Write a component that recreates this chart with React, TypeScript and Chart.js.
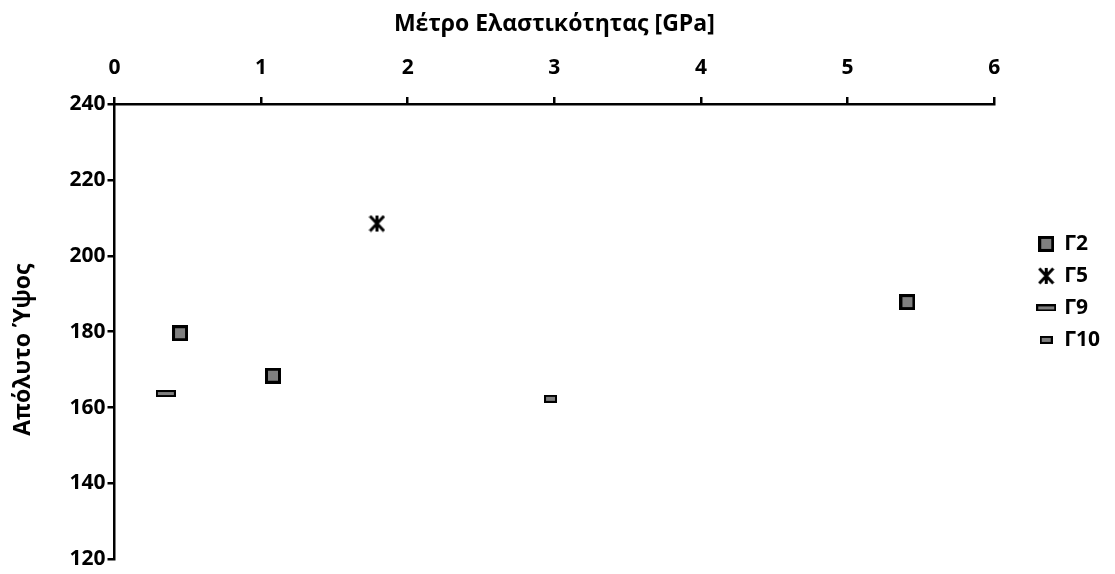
import React, { useEffect, useRef } from "react";
import { Chart, registerables } from "chart.js";

Chart.register(...registerables);

const xTitle = "Μέτρο Ελαστικότητας [GPa]";
const yTitle = "Απόλυτο Ύψος";
const seriesNames = ["Γ2", "Γ5", "Γ9", "Γ10"];
const g2 = [
  { x: 0.447, y: 179.6 },
  { x: 1.081, y: 168.4 },
  { x: 5.408, y: 187.8 },
];
const g5 = [{ x: 1.79, y: 208.5 }];
const g9 = [{ x: 0.35, y: 163.7 }];
const g10 = [{ x: 2.974, y: 162.3 }];
const xMin = 0, xMax = 6, xStep = 1;
const yMin = 120, yMax = 240, yStep = 20;

const FONT = "'Open Sans', 'Liberation Sans', sans-serif";

function makeRect(w: number, h: number, lw: number) {
  const c = document.createElement("canvas");
  c.width = w;
  c.height = h;
  const g = c.getContext("2d")!;
  g.fillStyle = "#000";
  g.fillRect(0, 0, w, h);
  g.fillStyle = "#808080";
  g.fillRect(lw, lw, w - 2 * lw, h - 2 * lw);
  return c;
}

function makeAsterisk(w: number, h: number) {
  const c = document.createElement("canvas");
  c.width = w;
  c.height = h;
  const g = c.getContext("2d")!;
  g.strokeStyle = "#000";
  g.lineWidth = 3;
  g.lineCap = "butt";
  g.beginPath();
  g.moveTo(w / 2, 1);
  g.lineTo(w / 2, h - 1);
  g.moveTo(1.5, 1.5);
  g.lineTo(w - 1.5, h - 1.5);
  g.moveTo(w - 1.5, 1.5);
  g.lineTo(1.5, h - 1.5);
  g.stroke();
  return c;
}

export default function App() {
  const ref = useRef<HTMLCanvasElement | null>(null);
  useEffect(() => {
    if (!ref.current) return;
    const sq = makeRect(16, 16, 3);
    const ast = makeAsterisk(17, 18);
    const r9 = makeRect(20, 7, 2);
    const r10 = makeRect(13, 8, 2);
    const styles = [sq, ast, r9, r10];
    const datas = [g2, g5, g9, g10];
    const chart = new Chart(ref.current, {
      type: "scatter",
      data: {
        datasets: seriesNames.map((n, i) => ({
          label: n,
          data: datas[i],
          pointStyle: styles[i] as any,
          pointRadius: 8,
          backgroundColor: "#808080",
          borderColor: "#000",
        })),
      },
      options: {
        animation: false,
        responsive: false,
        layout: { padding: { left: 0, top: 0, right: 5, bottom: 13 } },
        plugins: {
          tooltip: { enabled: false },
          legend: {
            position: "right",
            align: "start",
            title: { display: true, text: "", padding: { top: 208, bottom: 0 } },
            labels: {
              usePointStyle: true,
              pointStyleWidth: 15,
              color: "#000",
              padding: 11,
              font: { family: FONT, size: 21, weight: "bold" },
            },
          },
        },
        scales: {
          x: {
            type: "linear",
            position: "top",
            min: xMin,
            max: xMax,
            ticks: {
              stepSize: xStep,
              color: "#000",
              padding: 16,
              font: { family: FONT, size: 21, weight: "bold" },
            },
            grid: { drawOnChartArea: false, drawTicks: true, tickLength: 7, color: "#000", lineWidth: 2.5 },
            border: { color: "#000", width: 2.5 },
            title: {
              display: true,
              text: xTitle,
              color: "#000",
              font: { family: FONT, size: 23, weight: "bold" },
              padding: { top: 11, bottom: 0 },
            },
            afterFit: (s: any) => {
              s.height = 104;
            },
          },
          y: {
            type: "linear",
            min: yMin,
            max: yMax,
            ticks: {
              stepSize: yStep,
              color: "#000",
              padding: 2,
              font: { family: FONT, size: 21, weight: "bold" },
            },
            grid: { drawOnChartArea: false, drawTicks: true, tickLength: 7, color: "#000", lineWidth: 2.5 },
            border: { color: "#000", width: 2.5 },
            title: {
              display: true,
              text: yTitle + "      ",
              color: "#000",
              font: { family: FONT, size: 23, weight: "bold" },
              padding: { top: 10, bottom: 0 },
            },
            afterFit: (s: any) => {
              s.width = 114.5;
            },
          },
          gap: {
            type: "linear",
            position: "right",
            display: true,
            ticks: { display: false },
            grid: { display: false, drawTicks: false },
            border: { display: false },
            title: { display: false },
            afterFit: (s: any) => {
              s.width = 33.5;
            },
          },
        },
      },
    });
    return () => chart.destroy();
  }, []);
  return (
    <div style={{ position: "fixed", left: 0, top: 0, width: 1115, height: 574, background: "#fff" }}>
      <canvas ref={ref} width={1115} height={574} />
    </div>
  );
}
